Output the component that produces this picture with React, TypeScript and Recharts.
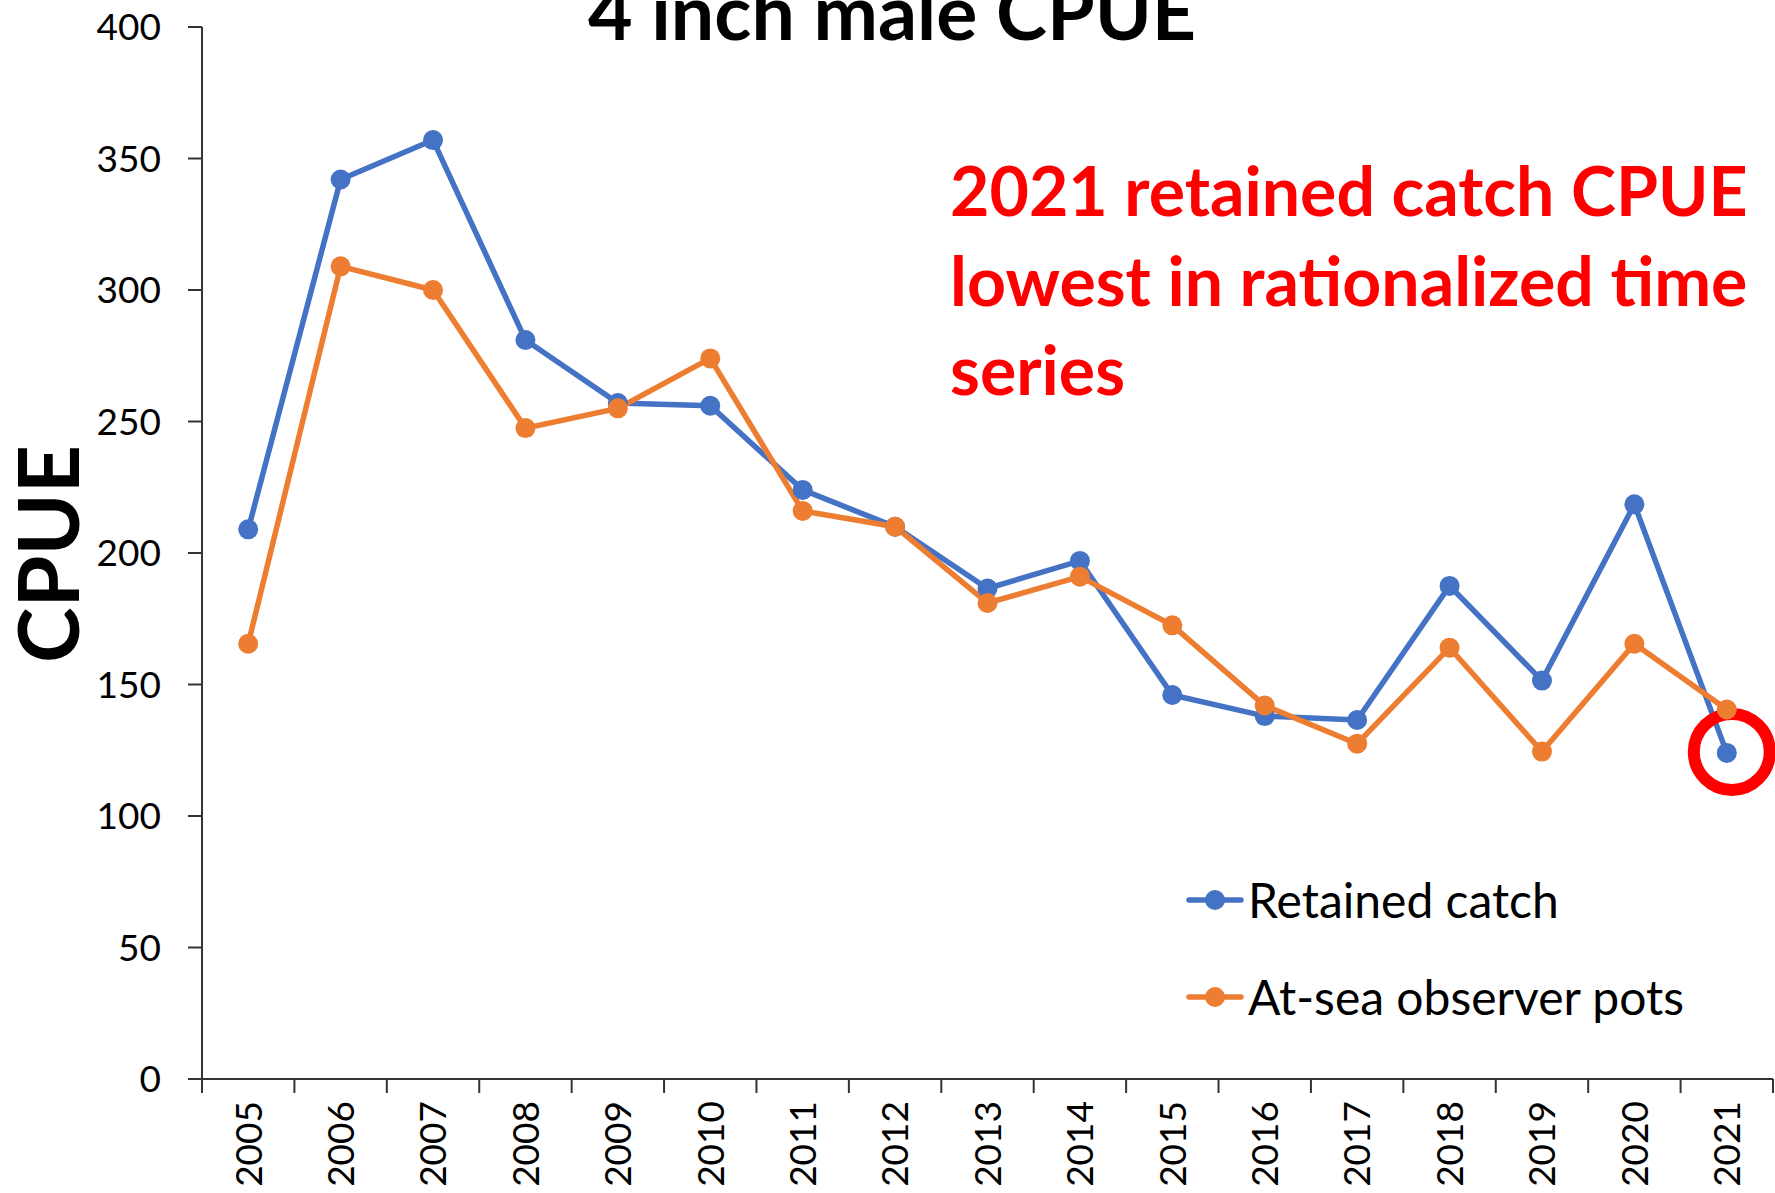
import { LineChart, Line, XAxis, YAxis, Legend, ReferenceDot } from 'recharts';

const years = [2005, 2006, 2007, 2008, 2009, 2010, 2011, 2012, 2013, 2014, 2015, 2016, 2017, 2018, 2019, 2020, 2021];
const retainedCatch = [209, 342, 357, 281, 257, 256, 224, 210, 186.5, 197, 146, 138, 136.5, 187.5, 151.5, 218.5, 124];
const observerPots = [165.5, 309, 300, 247.5, 255, 274, 216, 210, 181, 191, 172.5, 142, 127.5, 164, 124.5, 165.5, 140.5];
const yTicks = [0, 50, 100, 150, 200, 250, 300, 350, 400];
const seriesKeys = ['retained', 'observer'];
const seriesNames = ['Retained catch', 'At-sea observer pots'];
const chartTitle = '4 inch male CPUE';
const yLabel = 'CPUE';
const noteLines = ['2021 retained catch CPUE', 'lowest in rationalized time', 'series'];

const W = 1775;
const H = 1193;
const LEFT = 202;
const RIGHT = 2;
const BLUE = '#4472C4';
const ORANGE = '#ED7D31';
const AXIS = '#333333';
const FONT = 'Lato, "Open Sans", sans-serif';

const data = years.map((year, i) => ({
  year,
  retained: retainedCatch[i],
  observer: observerPots[i],
}));

// tick marks sit between the years, like Excel's category axis
const boundaryTicks = [...years.map((y) => y - 0.5), years[years.length - 1] + 0.5];
const halfBand = (W - LEFT - RIGHT) / years.length / 2;

const YearTick = (props: any) => {
  const { x, y, payload } = props;
  const year = payload.value + 0.5;
  if (!years.includes(year)) return null;
  const cx = x + halfBand;
  return (
    <text
      x={cx}
      y={y}
      dy="0.36em"
      textAnchor="end"
      transform={`rotate(-90, ${cx}, ${y})`}
      fontFamily={FONT}
      fontSize={37}
      fill="#000"
    >
      {year}
    </text>
  );
};

const renderLegend = (props: any) => {
  // keep series order (recharts sorts by name otherwise)
  const items = [...props.payload].sort(
    (a: any, b: any) => seriesKeys.indexOf(a.dataKey) - seriesKeys.indexOf(b.dataKey)
  );
  return (
    <div>
      {items.map((entry: any) => (
        <div key={entry.value} style={{ display: 'flex', alignItems: 'center', height: 97 }}>
          <svg width={58} height={24}>
            <line x1={3} y1={12} x2={55} y2={12} stroke={entry.color} strokeWidth={5.5} strokeLinecap="round" />
            <circle cx={29} cy={12} r={10} fill={entry.color} />
          </svg>
          <span style={{ fontFamily: FONT, fontSize: 48, lineHeight: 1, color: '#000', marginLeft: 4, whiteSpace: 'nowrap' }}>
            {entry.value}
          </span>
        </div>
      ))}
    </div>
  );
};

const RedRing = (props: any) => {
  const { cx, cy } = props;
  return <ellipse cx={cx + 5} cy={cy - 1} rx={38} ry={38} fill="none" stroke="#FF0000" strokeWidth={12} />;
};

const App = () => {
  const last = data[data.length - 1];
  return (
    <div style={{ position: 'absolute', left: 0, top: 0, width: W, height: H, background: '#fff' }}>
      <LineChart width={W} height={H} data={data} margin={{ top: 27, right: RIGHT, bottom: 0, left: 0 }}>
        <XAxis
          type="number"
          dataKey="year"
          domain={[2004.5, 2021.5]}
          ticks={boundaryTicks}
          interval={0}
          allowDataOverflow
          height={114}
          tickSize={14}
          tickMargin={8}
          axisLine={{ stroke: AXIS, strokeWidth: 2 }}
          tickLine={{ stroke: AXIS, strokeWidth: 2 }}
          tick={<YearTick />}
        />
        <YAxis
          domain={[0, 400]}
          ticks={yTicks}
          interval={0}
          width={LEFT}
          tickSize={14}
          tickMargin={27}
          axisLine={{ stroke: AXIS, strokeWidth: 2 }}
          tickLine={{ stroke: AXIS, strokeWidth: 2 }}
          tick={{ fontFamily: FONT, fontSize: 37, fill: '#000' }}
        />
        <Legend
          layout="vertical"
          align="center"
          verticalAlign="middle"
          content={renderLegend}
          wrapperStyle={{ left: 1186, top: 851, width: 'auto' }}
        />
        <Line
          name={seriesNames[0]}
          dataKey={seriesKeys[0]}
          stroke={BLUE}
          strokeWidth={5.5}
          dot={{ r: 10, fill: BLUE, stroke: BLUE, strokeWidth: 0 }}
          activeDot={false}
          isAnimationActive={false}
        />
        <Line
          name={seriesNames[1]}
          dataKey={seriesKeys[1]}
          stroke={ORANGE}
          strokeWidth={5.5}
          dot={{ r: 10, fill: ORANGE, stroke: ORANGE, strokeWidth: 0 }}
          activeDot={false}
          isAnimationActive={false}
        />
        <ReferenceDot x={last.year} y={last.retained} r={38} shape={<RedRing />} ifOverflow="visible" />
      </LineChart>
      <svg
        width={W}
        height={H}
        style={{ position: 'absolute', left: 0, top: 0, pointerEvents: 'none' }}
      >
        <text x={892} y={40} textAnchor="middle" fontFamily={FONT} fontWeight={700} fontSize={77} fill="#000">
          {chartTitle}
        </text>
        <text
          x={79}
          y={554}
          textAnchor="middle"
          transform="rotate(-90, 79, 554)"
          fontFamily={FONT}
          fontWeight={700}
          fontSize={84}
          fill="#000"
        >
          {yLabel}
        </text>
        {noteLines.map((line, i) => (
          <text key={line} x={950} y={216 + i * 89.5} fontFamily={FONT} fontWeight={700} fontSize={68} fill="#FF0000">
            {line}
          </text>
        ))}
      </svg>
    </div>
  );
};

export default App;
